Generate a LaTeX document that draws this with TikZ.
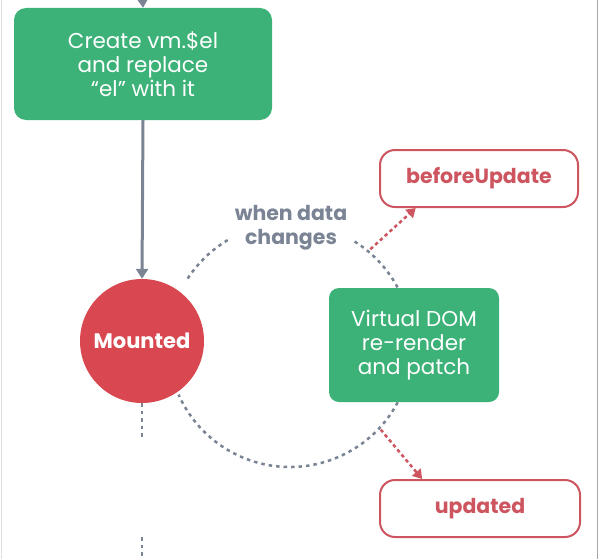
\documentclass[tikz,border=0pt]{standalone}
\usepackage{fontspec}
\setmainfont{Poppins}
\usetikzlibrary{arrows.meta}
\definecolor{vuegreen}{RGB}{60,178,120}
\definecolor{hookred}{RGB}{217,72,80}
\definecolor{hookline}{RGB}{205,85,95}
\definecolor{flowgray}{RGB}{122,132,148}
\tikzset{
  greenstep/.style={fill=vuegreen, rounded corners=12pt, text=white, align=center,
    font=\fontsize{21.5}{24}\selectfont, inner sep=0pt},
  hookbox/.style={draw=hookline, line width=2pt, rounded corners=15pt, fill=white,
    text=hookline, font=\bfseries\fontsize{20.5}{24}\selectfont, inner sep=0pt},
  flowarrow/.style={flowgray, line width=3pt, -{Triangle[length=10pt,width=12pt]}},
  loopdash/.style={flowgray, line width=2.5pt, dash pattern=on 3.5pt off 4pt},
  hookarrow/.style={hookline, line width=2.5pt, dash pattern=on 3.5pt off 3pt,
    -{Triangle[length=9pt,width=11pt]}},
}
\begin{document}
\begin{tikzpicture}[x=1pt, y=1pt]
  \useasboundingbox (0,0) rectangle (601,-559);
  % frame edges
  \draw[gray!25, line width=1pt] (1,0) -- (1,-559);
  \draw[gray!70, line width=1pt] (597.5,0) -- (597.5,-559);
  % main column
  \node[greenstep, minimum width=258pt, minimum height=112pt] (create) at (143,-64)
    {Create vm.\$el\\and replace\\“el” with it};
  \node[circle, fill=hookred, text=white, minimum size=124pt, inner sep=0pt,
    font=\bfseries\fontsize{21}{24}\selectfont] (mounted) at (142,-341) {Mounted};
  \coordinate (enter) at (142,12);
  \draw[flowarrow] (enter) -- (create.north);
  \draw[flowarrow] (create.south) -- (mounted.north);
  \coordinate (gapA) at (142,-440);
  \coordinate (gapB) at (142,-537);
  \coordinate (gapC) at (142,-570);
  \draw[loopdash] (mounted.south) -- (gapA);
  \draw[loopdash] (gapB) -- (gapC);
  % update loop
  \coordinate (loop) at (290,-345);
  \node[text=flowgray, align=center, font=\bfseries\fontsize{20.5}{24}\selectfont]
    (changes) at (291,-228) {when data\\changes};
  \draw[loopdash] (loop) ++(147:122) arc[start angle=147, end angle=120, radius=122];
  \draw[loopdash] (loop) ++(58:122) arc[start angle=58, end angle=28, radius=122];
  \draw[loopdash] (loop) ++(-28:122) arc[start angle=-28, end angle=-156, radius=122];
  \node[greenstep, rounded corners=10pt, minimum width=170pt, minimum height=114pt]
    (vdom) at (414,-345) {Virtual DOM\\re-render\\and patch};
  % hooks
  \node[hookbox, minimum width=198pt, minimum height=57pt] (before) at (479,-178.5)
    {beforeUpdate};
  \node[hookbox, minimum width=200pt, minimum height=57pt] (updated) at (480,-508.5)
    {updated};
  \path (loop) ++(50:125) coordinate (outBefore);
  \path (loop) ++(-43:124) coordinate (outUpdated);
  \draw[hookarrow] (outBefore) -- (before.205);
  \draw[hookarrow] (outUpdated) -- (updated.153);
\end{tikzpicture}
\end{document}
